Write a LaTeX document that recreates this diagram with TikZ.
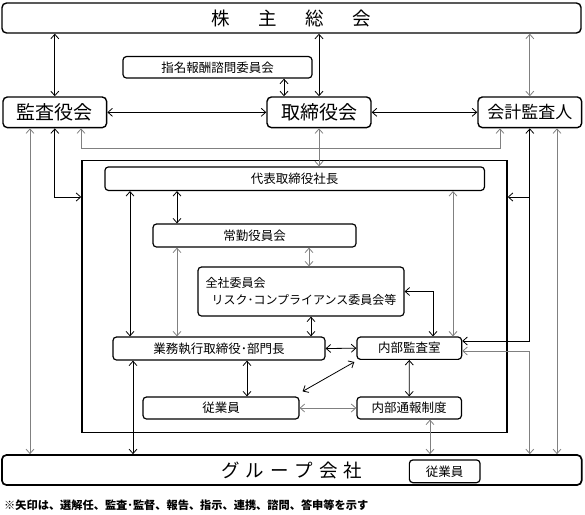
\documentclass[tikz,border=0pt]{standalone}
\usepackage{fontspec}
\setmainfont{Noto Sans CJK JP}
\usetikzlibrary{arrows.meta}

\tikzset{
  box/.style={draw, line width=1.2pt, rounded corners=3.5pt, inner sep=0pt, font=\fontsize{12.5}{17}\selectfont},
  bigbox/.style={box, line width=1.4pt, rounded corners=4.5pt, font=\fontsize{18.5}{20}\selectfont},
  frame/.style={draw, line width=1.4pt, inner sep=0pt},
  link/.style={line width=0.8pt},
  graylink/.style={link, black!50},
  note/.style={inner sep=0pt, font=\fontsize{11.2}{13}\bfseries\selectfont}
}

\begin{document}
\begin{tikzpicture}[x=1pt, y=-1pt, >={Straight Barb[length=4.5pt,width=8pt]}]
  \useasboundingbox (0,0) rectangle (585,514);

  % Nodes
  \node[bigbox, minimum width=579pt, minimum height=30pt] (kabu) at (291.5,18) {株\hspace{28.5pt}主\hspace{28.5pt}総\hspace{28.5pt}会};
  \node[box, minimum width=189pt, minimum height=21.5pt] (shimei) at (217.5,67.3) {指名報酬諮問委員会};
  \node[bigbox, font=\fontsize{19}{20}\selectfont, minimum width=103.7pt, minimum height=30.7pt] (kansa) at (54.8,112.3) {監査役会};
  \node[bigbox, font=\fontsize{19}{20}\selectfont, minimum width=104pt, minimum height=30.7pt] (tori) at (319,112.3) {取締役会};
  \node[bigbox, font=\fontsize{17}{20}\selectfont, minimum width=103.7pt, minimum height=30.7pt] (kaikei) at (529.8,112.3) {会計監査人};

  \node[frame, minimum width=425pt, minimum height=272.2pt] (core) at (294.5,296.6) {};
  \node[box, minimum width=379.5pt, minimum height=23.5pt] (daihyo) at (294.7,178.7) {代表取締役社長};
  \node[box, minimum width=203pt, minimum height=23pt] (jokin) at (254.5,235.5) {常勤役員会};
  \node[box, font=\fontsize{12}{17}\selectfont, minimum width=206pt, minimum height=49pt, align=left] (zensha) at (301,291.5) {全社委員会\\\hspace{6pt}リスク･コンプライアンス委員会等};
  \node[box, minimum width=212pt, minimum height=23pt] (gyomu) at (219,348.5) {業務執行取締役･部門長};
  \node[box, minimum width=104.7pt, minimum height=22.3pt] (naibu) at (409.3,348.2) {内部監査室};
  \node[box, minimum width=156pt, minimum height=22pt] (jugyo) at (221,408) {従業員};
  \node[box, minimum width=104.5pt, minimum height=22pt] (tsuho) at (409.2,408) {内部通報制度};

  \node[bigbox, line width=1.7pt, minimum width=579.7pt, minimum height=30pt] (group) at (291.8,470) {グ\hspace{6pt}ル\hspace{6pt}ー\hspace{6pt}プ\hspace{6pt}会\hspace{6pt}社};
  \node[box, minimum width=70.7pt, minimum height=22.7pt] (gjugyo) at (444.7,471.3) {従業員};

  \node[note, anchor=west] (chu) at (4,505) {※矢印は、選解任、監査･監督、報告、指示、連携、諮問、答申等を示す};

  % Edges
  \draw[link, <->] (kabu.south -| kansa) -- (kansa.north);
  \draw[link, <->] (kabu.south -| tori) -- (tori.north);
  \draw[graylink, <->] (kabu.south -| kaikei) -- (kaikei.north);
  \draw[link, <->] (shimei.south -| 284,0) -- (tori.north -| 284,0);
  \draw[link, <->] (kansa) -- (tori);
  \draw[link, <->] (tori) -- (kaikei);
  \draw[graylink, <->] (kansa.south -| 81,0) |- (500,148) -- (kaikei.south -| 500,0);
  \draw[graylink, <->] (tori.south) -- (daihyo.north -| tori);

  % left and right of the frame
  \draw[graylink, <->] (kansa.south -| 30,0) -- (group.north -| 30,0);
  \draw[link, <->] (kansa.south) |- (core.west |- 0,197);
  \draw[link, <->] (kaikei.south) -- (kaikei.south |- 0,341) -- (naibu.east |- 0,341);
  \draw[link, ->] (kaikei.south |- 0,197) -- (core.east |- 0,197);
  \draw[graylink, <->] (naibu.east |- 0,351) -| (group.north -| kaikei);
  \draw[graylink, <->] (kaikei.south -| 557,0) -- (group.north -| 557,0);

  % inside the frame
  \draw[link, <->] (daihyo.south -| 130,0) -- (gyomu.north -| 130,0);
  \draw[link, <->] (daihyo.south -| 177,0) -- (jokin.north -| 177,0);
  \draw[graylink, <->] (jokin.south -| 177,0) -- (gyomu.north -| 177,0);
  \draw[graylink, <->] (jokin.south -| 309,0) -- (zensha.north -| 309,0);
  \draw[graylink, <->] (daihyo.south -| 453,0) -- (naibu.north -| 453,0);
  \draw[link, <->] (zensha.east) -| (naibu.north -| 433,0);
  \draw[link, <->] (zensha.south -| 311,0) -- (gyomu.north -| 311,0);
  \draw[link, <->] (gyomu.east) -- (naibu.west);
  \draw[link, <->] (gyomu.south -| 247,0) -- (jugyo.north -| 247,0);
  \draw[link, <->] ([shift={(3,-5)}]jugyo.north east) -- ([shift={(-2,2)}]naibu.south west);
  \draw[graylink, <->] (jugyo.east) -- (tsuho.west);
  \draw[link, <->] (naibu) -- (tsuho);

  % down to the group
  \draw[graylink, <->] (tsuho.south -| 430,0) -- (group.north -| 430,0);
  \draw[link, <->] (gyomu.south -| 133,0) -- (group.north -| 133,0);
\end{tikzpicture}
\end{document}
